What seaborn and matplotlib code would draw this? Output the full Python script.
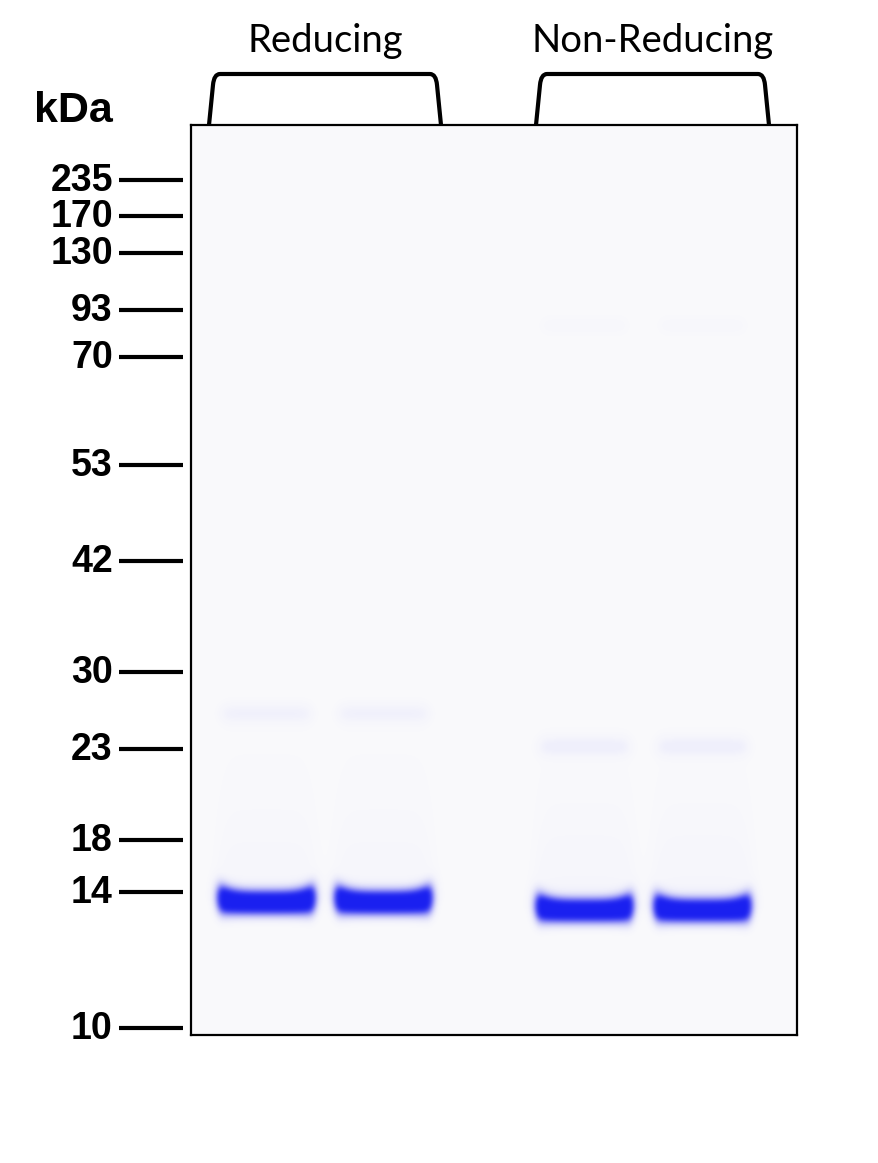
import numpy as np
import matplotlib
matplotlib.use("Agg")
import matplotlib.pyplot as plt
from matplotlib.colors import LinearSegmentedColormap
from matplotlib.path import Path
from matplotlib.patches import PathPatch
import seaborn as sns

# marker ladder: kDa and migration distance (px from top of gel)
marker_kda = ["235", "170", "130", "93", "70", "53", "42", "30", "23", "18", "14", "10"]
marker_migration = [55, 91, 128, 185, 232, 340, 436, 547, 624, 715, 767, 903]

# sample lanes
lane_centers = [75, 192, 393, 511]
lane_group = ["Reducing", "Reducing", "Non-Reducing", "Non-Reducing"]
group_names = ["Reducing", "Non-Reducing"]

# bands per lane: migration, intensity
main_band_y = [777, 777, 785, 785]
main_band_amp = [2.4, 2.4, 2.3, 2.3]
minor_band_y = [588, 588, 621, 621]
minor_band_amp = [0.04, 0.04, 0.05, 0.05]
faint_top_y = [None, None, 200, 200]
faint_top_amp = [0.0, 0.0, 0.012, 0.012]
smear_amp = [0.025, 0.025, 0.03, 0.03]

GEL_W, GEL_H = 606, 910
HALF_W = 47
label_shift = {"Reducing": 0, "Non-Reducing": 9}


def lane_profile(x, cx, hw, edge=3.5):
    return 0.5 * (np.tanh((x - (cx - hw)) / edge) - np.tanh((x - (cx + hw)) / edge))


def blur(img, sigma):
    r = int(3 * sigma)
    t = np.arange(-r, r + 1)
    k = np.exp(-0.5 * (t / sigma) ** 2)
    k /= k.sum()
    img = np.apply_along_axis(lambda v: np.convolve(v, k, mode="same"), 0, img)
    img = np.apply_along_axis(lambda v: np.convolve(v, k, mode="same"), 1, img)
    return img


def build_gel():
    y, x = np.mgrid[0:GEL_H, 0:GEL_W].astype(float)
    img = np.zeros((GEL_H, GEL_W))
    for i, cx in enumerate(lane_centers):
        xp = lane_profile(x, cx, HALF_W)
        u = np.clip((x - cx) / HALF_W, -1.2, 1.2)
        # main band, ends slightly raised and thicker (smile)
        curve = -4.0 * u ** 4
        sy = 6.5 * (1 + 0.3 * u ** 4)
        img += main_band_amp[i] * xp * np.exp(-0.5 * ((y - main_band_y[i] - curve) / sy) ** 2)
        # minor band
        img += minor_band_amp[i] * lane_profile(x, cx, HALF_W - 3, 6) * \
            np.exp(-0.5 * ((y - minor_band_y[i]) / 6.5) ** 2)
        if faint_top_y[i] is not None:
            img += faint_top_amp[i] * lane_profile(x, cx, HALF_W - 4, 6) * \
                np.exp(-0.5 * ((y - faint_top_y[i]) / 7.0) ** 2)
        # smear above the main band
        d = main_band_y[i] - y
        sm = np.where(d > 0, np.exp(-d / 80.0), 0.0)
        img += smear_amp[i] * lane_profile(x, cx, HALF_W + 2, 10) * sm
    img = np.clip(img, 0, 1)
    return blur(img, 2.5)


gel = build_gel()

cmap = LinearSegmentedColormap.from_list(
    "coomassie", [(0.0, "#f9f9fb"), (0.5, "#8a8af6"), (1.0, "#1a20f0")])

fig = plt.figure(figsize=(8.79, 11.63), dpi=100)
fig.patch.set_facecolor("white")
ax = fig.add_axes([191 / 879, 1 - 1035 / 1163, 606 / 879, 910 / 1163])

sns.heatmap(gel, ax=ax, cmap=cmap, vmin=0, vmax=1, cbar=False,
            xticklabels=False, yticklabels=False, rasterized=True)
for s in ax.spines.values():
    s.set_visible(True)
    s.set_linewidth(1.6)
    s.set_color("black")
ax.tick_params(left=False, bottom=False)

# marker ladder ticks and labels
ytr = ax.get_yaxis_transform()
ax.hlines(marker_migration, -0.118, -0.013, transform=ytr, color="black",
          lw=3.0, clip_on=False)
for kda, m in zip(marker_kda, marker_migration):
    ax.text(-0.129, m + 1, kda, transform=ytr, ha="right", va="center",
            fontsize=27, fontweight="bold", family="Liberation Sans")
fig.text(113 / 879, 1 - 122 / 1163, "kDa", ha="right", va="baseline",
         fontsize=31, fontweight="bold", family="Liberation Sans")

# group brackets and labels
xtr = ax.get_xaxis_transform()
top = 1 + 51 / GEL_H
r = 0.012
for g in group_names:
    idx = [i for i, lg in enumerate(lane_group) if lg == g]
    x0 = lane_centers[idx[0]] - 57 + label_shift[g]
    x1 = lane_centers[idx[-1]] + 58 + label_shift[g]
    verts = [(x0, 1.0), (x0 + 4, top - r), (x0 + 5, top), (x0 + 11, top),
             (x1 - 11, top), (x1 - 5, top), (x1 - 4, top - r), (x1, 1.0)]
    codes = [Path.MOVETO, Path.LINETO, Path.CURVE3, Path.CURVE3,
             Path.LINETO, Path.CURVE3, Path.CURVE3, Path.LINETO]
    ax.add_patch(PathPatch(Path(verts, codes), transform=xtr, fill=False,
                           lw=3.0, color="black", clip_on=False, capstyle="butt",
                           joinstyle="round"))
    ax.text((x0 + x1) / 2, top + 0.017, g, transform=xtr, ha="center", va="bottom",
            fontsize=27.5, family="Lato")

fig.savefig("out.png", dpi=100, facecolor="white")
